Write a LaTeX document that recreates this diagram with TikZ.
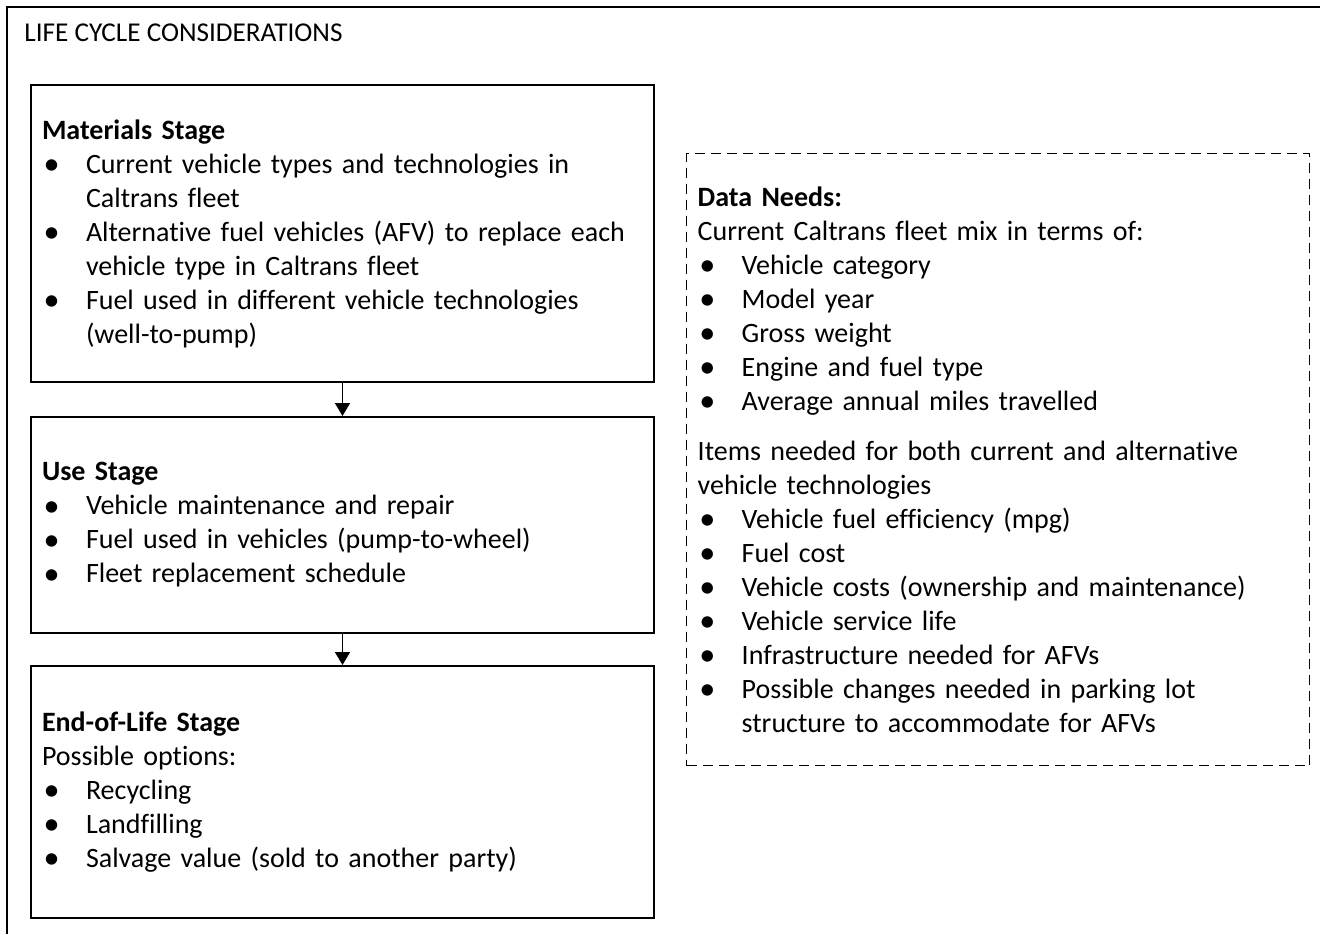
\documentclass[tikz,border=0pt]{standalone}
\usepackage{fontspec}
\setmainfont{Carlito}[Ligatures=NoCommon]
\usetikzlibrary{arrows.meta}

\newlength{\bulw}\setlength{\bulw}{22pt}
\newcommand{\itm}[1]{\makebox[\bulw][l]{\hspace{0.8pt}\raisebox{-0.1ex}{\scalebox{1.15}{\textbullet}}}#1}
\newcommand{\contline}[1]{\hspace*{\bulw}#1}

\begin{document}
\begin{tikzpicture}[x=0.5pt,y=-0.5pt]
    \tikzset{stage/.style={draw,line width=1pt,anchor=north west,minimum width=311.5pt,
        text width=300.5pt,inner xsep=5.5pt,align=left,font=\fontsize{14}{17}\selectfont}}
    \tikzset{needs/.style={stage,draw,dashed,line width=0.7pt,dash pattern=on 5pt off 3pt}}
    \tikzset{flow/.style={-{Triangle[width=7.5pt,length=6.5pt]},line width=0.8pt}}

    \useasboundingbox (0,0) rectangle (1320,934);

    % outer frame
    \draw [line width=0.9pt] (7,934) -- (7,7) -- (1320,7);
    \node [anchor=west,inner sep=0pt,font=\fontsize{13.6}{15}\selectfont] (title) at (24,33) {LIFE CYCLE CONSIDERATIONS};

    % stages
    \node [stage,minimum height=148.5pt] (mat) at (30,84) {%
        \textbf{Materials Stage}\\
        \itm{Current vehicle types and technologies in}\\
        \contline{Caltrans fleet}\\
        \itm{Alternative fuel vehicles (AFV) to replace each}\\
        \contline{vehicle type in Caltrans fleet}\\
        \itm{Fuel used in different vehicle technologies}\\
        \contline{(well-to-pump)}};
    \node [stage,minimum height=108pt] (use) at (30,416) {%
        \textbf{Use Stage}\\
        \itm{Vehicle maintenance and repair}\\
        \itm{Fuel used in vehicles (pump-to-wheel)}\\
        \itm{Fleet replacement schedule}};
    \node [stage,minimum height=126pt] (eol) at (30,665) {%
        \textbf{End-of-Life Stage}\\
        Possible options:\\
        \itm{Recycling}\\
        \itm{Landfilling}\\
        \itm{Salvage value (sold to another party)}};

    \draw [flow] (mat.south) -- (use.north);
    \draw [flow] (use.south) -- (eol.north);

    % data needs
    \node [needs,minimum height=306pt] (data) at (686,153) {%
        \textbf{Data Needs:}\\
        Current Caltrans fleet mix in terms of:\\
        \itm{Vehicle category}\\
        \itm{Model year}\\
        \itm{Gross weight}\\
        \itm{Engine and fuel type}\\
        \itm{Average annual miles travelled}\\[8pt]
        Items needed for both current and alternative\\
        vehicle technologies\\
        \itm{Vehicle fuel efficiency (mpg)}\\
        \itm{Fuel cost}\\
        \itm{Vehicle costs (ownership and maintenance)}\\
        \itm{Vehicle service life}\\
        \itm{Infrastructure needed for AFVs}\\
        \itm{Possible changes needed in parking lot}\\
        \contline{structure to accommodate for AFVs}};
\end{tikzpicture}
\end{document}
